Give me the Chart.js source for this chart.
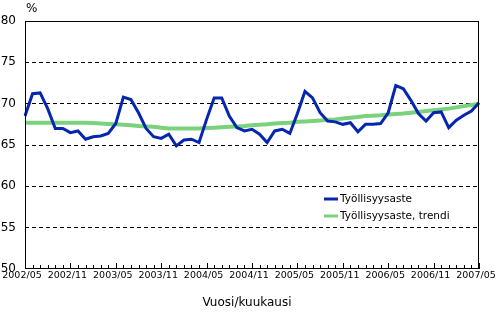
<!DOCTYPE html>
<html>
<head>
<meta charset="utf-8">
<script src="https://cdn.jsdelivr.net/npm/chart.js@4"></script>
<style>
  body { margin: 0; background: #fff; }
</style>
</head>
<body>
<canvas id="myChart" width="497" height="312"></canvas>
<script>
// months 2002/05 .. 2007/05
const months = [];
for (let y = 2002, m = 5; y < 2007 || (y === 2007 && m <= 5); m++) {
  if (m > 12) { m = 1; y++; if (y === 2007 && m > 5) break; }
  months.push(y + "/" + String(m).padStart(2, "0"));
}

const rateValues = [
  68.5, 71.2, 71.3, 69.4, 67.0, 67.0, 66.5, 66.7, 65.7, 66.0,
  66.1, 66.4, 67.6, 70.8, 70.5, 68.9, 67.0, 66.0, 65.8, 66.3,
  64.9, 65.6, 65.7, 65.3, 68.1, 70.7, 70.7, 68.5, 67.1, 66.7,
  66.9, 66.3, 65.3, 66.7, 66.9, 66.4, 68.8, 71.5, 70.7, 68.9,
  67.9, 67.8, 67.5, 67.7, 66.6, 67.5, 67.5, 67.6, 68.9, 72.2,
  71.8, 70.4, 68.8, 67.9, 68.9, 69.0, 67.1, 68.0, 68.6, 69.1,
  70.1
];
const trendValues = [
  67.7, 67.7, 67.7, 67.7, 67.7, 67.7, 67.7, 67.7, 67.7, 67.65,
  67.6, 67.55, 67.5, 67.45, 67.4, 67.3, 67.25, 67.2, 67.1, 67.0,
  67.0, 67.0, 67.0, 67.0, 67.05, 67.1, 67.15, 67.2, 67.25, 67.3,
  67.4, 67.45, 67.5, 67.6, 67.65, 67.7, 67.8, 67.85, 67.9, 67.95,
  68.05, 68.1, 68.2, 68.3, 68.4, 68.5, 68.55, 68.6, 68.7, 68.75,
  68.8, 68.9, 69.0, 69.1, 69.2, 69.3, 69.4, 69.55, 69.7, 69.85,
  70.0
];
const seriesNames = ["Työllisyysaste", "Työllisyysaste, trendi"];
const seriesColors = ["#0626b0", "#7ad27c"];
const yTicks = [50, 55, 60, 65, 70, 75, 80];

const FONT = "'DejaVu Sans', sans-serif";

const framePlugin = {
  id: "frame",
  afterDraw(chart) {
    const { ctx, chartArea: a } = chart;
    const xs = chart.scales.x;
    ctx.save();
    ctx.strokeStyle = "#000";
    ctx.lineWidth = 1;
    ctx.strokeRect(Math.round(a.left) + 0.5, Math.round(a.top) + 0.5,
      Math.round(a.right - a.left) - 1, Math.round(a.bottom - a.top) - 1);
    // month ticks pointing inward
    ctx.beginPath();
    for (let i = 0; i < months.length; i++) {
      const px = Math.round(xs.getPixelForValue(i)) + 0.5;
      const len = i % 6 === 0 ? 6 : 4;
      ctx.moveTo(px, a.bottom);
      ctx.lineTo(px, a.bottom - len);
    }
    ctx.stroke();

    ctx.fillStyle = "#000";
    ctx.font = "12px " + FONT;
    ctx.textBaseline = "middle";
    ctx.textAlign = "left";
    ctx.fillText("%", 26, 9);
    ctx.textAlign = "center";
    ctx.fillText("Vuosi/kuukausi", 247, 303);

    // legend
    ctx.font = "10.5px " + FONT;
    ctx.textAlign = "left";
    seriesNames.forEach((name, i) => {
      const y = 199 + i * 17;
      ctx.strokeStyle = seriesColors[i];
      ctx.lineWidth = 3;
      ctx.beginPath();
      ctx.moveTo(324, y);
      ctx.lineTo(338, y);
      ctx.stroke();
      ctx.fillText(name, 340, y);
    });
    ctx.restore();
  }
};

new Chart(document.getElementById("myChart"), {
  type: "line",
  data: {
    labels: months,
    datasets: [
      {
        label: seriesNames[0],
        data: rateValues,
        borderColor: seriesColors[0],
        borderWidth: 3,
        pointRadius: 0,
        tension: 0
      },
      {
        label: seriesNames[1],
        data: trendValues,
        borderColor: seriesColors[1],
        borderWidth: 4,
        pointRadius: 0,
        tension: 0
      }
    ]
  },
  options: {
    responsive: false,
    animation: false,
    layout: { padding: { top: 21, right: 18, left: 0, bottom: 0 } },
    plugins: { legend: { display: false }, tooltip: { enabled: false } },
    scales: {
      x: {
        offset: false,
        grid: { display: false, drawTicks: false },
        border: { display: false },
        ticks: {
          autoSkip: false,
          maxRotation: 0,
          padding: 1,
          labelOffset: -3,
          color: "#000",
          font: { family: FONT, size: 9.5 },
          callback: (v, i) => (i % 6 === 0 ? months[i] : "")
        },
        afterFit(s) { s.height = 43; s.paddingLeft = 0; s.paddingRight = 0; }
      },
      y: {
        min: yTicks[0],
        max: yTicks[yTicks.length - 1],
        afterBuildTicks(s) { s.ticks = yTicks.map(v => ({ value: v })); },
        grid: {
          drawTicks: false,
          lineWidth: 1,
          color: c => (c.tick && (c.tick.value === 50 || c.tick.value === 80)) ? "rgba(0,0,0,0)" : "#000"
        },
        border: { display: false, dash: [4, 3] },
        ticks: {
          padding: 9,
          color: "#000",
          font: { family: FONT, size: 12 }
        },
        afterFit(s) { s.width = 25; }
      }
    }
  },
  plugins: [framePlugin]
});
</script>
</body>
</html>
